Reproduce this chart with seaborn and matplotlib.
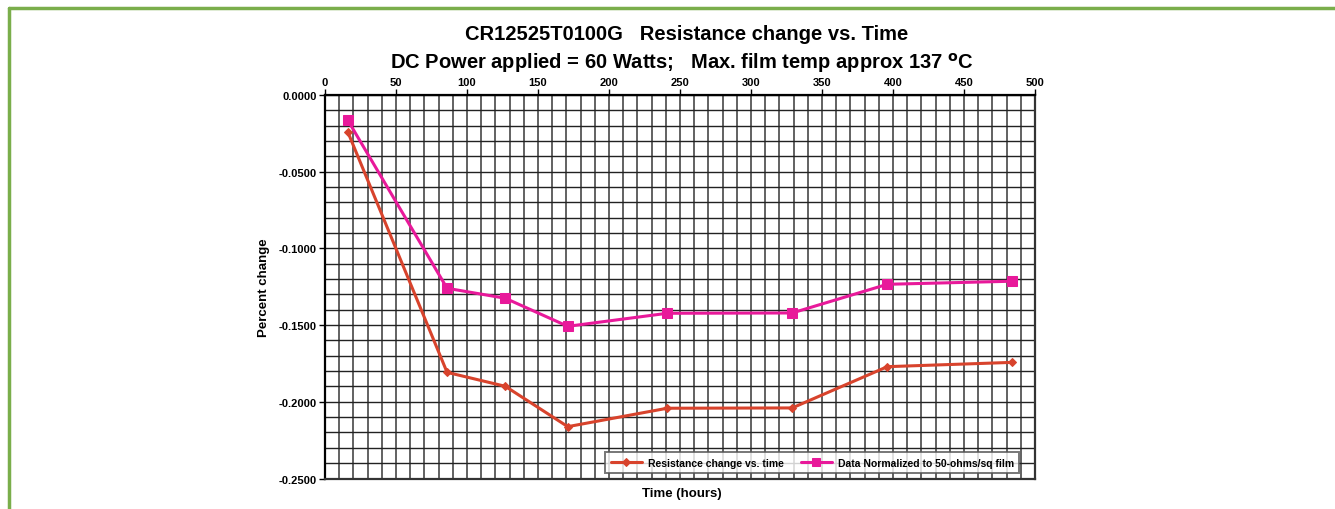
import matplotlib
matplotlib.use("Agg")
import matplotlib.pyplot as plt
import matplotlib.ticker as mticker
from matplotlib import font_manager
import pandas as pd
import seaborn as sns

# data
hours = [16, 86, 127, 171, 241, 329, 396, 484]
resistance_change = [-0.0239, -0.1808, -0.1899, -0.2162, -0.2042, -0.2040, -0.1771, -0.1743]
normalized_50ohm = [-0.0163, -0.1260, -0.1325, -0.1508, -0.1423, -0.1421, -0.1234, -0.1214]

label_raw = "Resistance change vs. time"
label_norm = "Data Normalized to 50-ohms/sq film"

sns.set_theme(style="white")
names = {f.name for f in font_manager.fontManager.ttflist}
family = "Liberation Sans Narrow" if "Liberation Sans Narrow" in names else "Liberation Sans"
plt.rcParams["font.family"] = [family, "DejaVu Sans"]
plt.rcParams["text.color"] = "black"
plt.rcParams["axes.labelcolor"] = "black"
plt.rcParams["xtick.color"] = "black"
plt.rcParams["ytick.color"] = "black"

df = pd.DataFrame({"hours": hours,
                   "raw": resistance_change,
                   "norm": normalized_50ohm})

fig = plt.figure(figsize=(13.35, 5.10), dpi=100)
ax = fig.add_axes([0.2434, 0.0598, 0.7753 - 0.2434, 0.8118 - 0.0598])

red = "#d8432c"
pink = "#e8199a"

sns.lineplot(data=df, x="hours", y="raw", color=red, marker="D", markersize=4.5,
             markeredgecolor=red, linewidth=2.2, label=label_raw, ax=ax)
sns.lineplot(data=df, x="hours", y="norm", color=pink, marker="s", markersize=6.5,
             markeredgecolor=pink, linewidth=2.2, label=label_norm, ax=ax)

ax.set_xlim(0, 500)
ax.set_ylim(-0.25, 0.0)
ax.xaxis.tick_top()
ax.xaxis.set_major_locator(mticker.MultipleLocator(50))
ax.xaxis.set_minor_locator(mticker.MultipleLocator(10))
ax.yaxis.set_major_locator(mticker.MultipleLocator(0.05))
ax.yaxis.set_minor_locator(mticker.MultipleLocator(0.01))
ax.yaxis.set_major_formatter(mticker.FormatStrFormatter("%.4f"))
ax.grid(which="both", axis="x", color="#555555", linewidth=1.3)
ax.grid(which="both", axis="y", color="#222222", linewidth=1.0)
ax.set_axisbelow(True)
ax.tick_params(axis="both", which="major", direction="out", length=4, width=1,
               color="black", labelsize=8, pad=2)
ax.tick_params(axis="both", which="minor", length=0)
ax.tick_params(axis="y", left=True)
ax.tick_params(axis="x", top=True)
for lbl in ax.get_xticklabels() + ax.get_yticklabels():
    lbl.set_fontweight("bold")
for side in ["top", "left"]:
    ax.spines[side].set_color("black")
    ax.spines[side].set_linewidth(1.6)
for side in ["bottom", "right"]:
    ax.spines[side].set_color("#333333")
    ax.spines[side].set_linewidth(1.6)

ax.set_xlabel("")
ax.set_ylabel("Percent change", fontsize=9.5, fontweight="bold", labelpad=6)
fig.text(0.511, 0.031, "Time (hours)", ha="center", va="center",
         fontsize=9.5, fontweight="bold")

fig.text(0.514, 0.932, "CR12525T0100G   Resistance change vs. Time",
         ha="center", va="center", fontsize=14.5, fontweight="bold")
fig.text(0.511, 0.877, "DC Power applied = 60 Watts;   Max. film temp approx 137 $^{\\mathbf{o}}$C",
         ha="center", va="center", fontsize=14.5, fontweight="bold")

leg = ax.legend(loc="lower right", ncol=2, fontsize=7.5, frameon=True, fancybox=False,
                shadow=False, bbox_to_anchor=(0.978, 0.015), borderaxespad=0,
                handlelength=3.0, columnspacing=1.6, borderpad=0.5, handletextpad=0.6,
                markerscale=0.85)
leg.get_frame().set_edgecolor("#555555")
leg.get_frame().set_linewidth(1.4)
for t in leg.get_texts():
    t.set_fontweight("bold")

# green page border
fig.add_artist(plt.Line2D([0.0065, 0.0065], [0.0, 0.982], transform=fig.transFigure,
                          color="#7aae4b", linewidth=2.5))
fig.add_artist(plt.Line2D([0.0065, 1.0], [0.982, 0.982], transform=fig.transFigure,
                          color="#7aae4b", linewidth=2.5))

fig.savefig("out.png", dpi=100)
